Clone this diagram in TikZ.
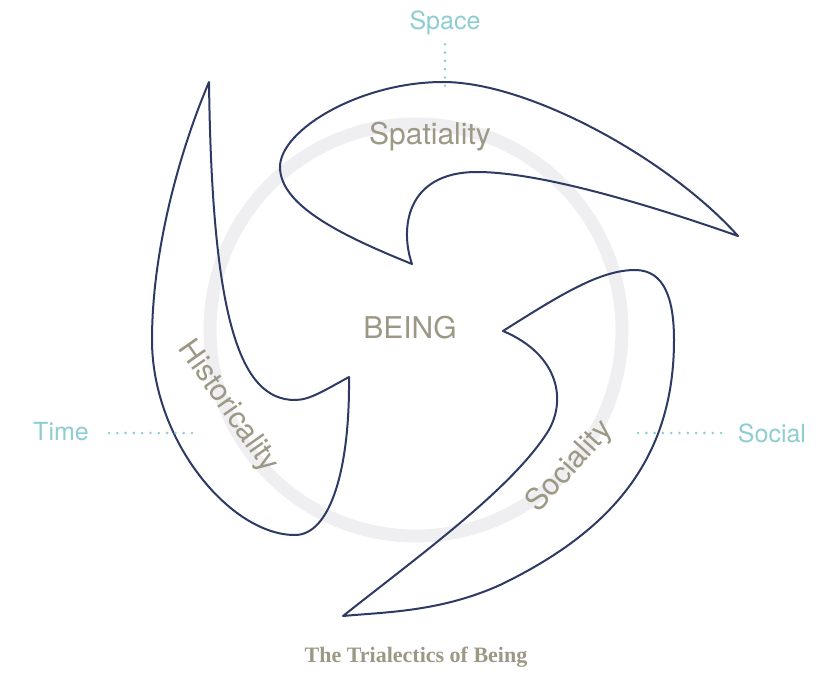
\documentclass[tikz,border=0pt]{standalone}
\usepackage{fontspec}
\setmainfont{TeX Gyre Heros}
\newfontfamily\capfont{Liberation Serif}
\usepackage{tikz}
\usetikzlibrary{positioning,calc}
\definecolor{hooknavy}{HTML}{2E3A64}
\definecolor{axisteal}{HTML}{8DCDD3}
\definecolor{facetgray}{HTML}{9C9885}
\definecolor{ringgray}{HTML}{EFEFF2}
\tikzset{
  hook/.style    ={draw=hooknavy, line width=2pt, line join=round},
  ring/.style    ={draw=ringgray, line width=13pt},
  axislbl/.style ={text=axisteal, inner sep=1pt, font=\fontsize{25}{28}\selectfont},
  facet/.style   ={text=facetgray, inner sep=1pt, font=\fontsize{30}{34}\selectfont},
  dotline/.style ={draw=axisteal, line width=2.9pt, line cap=round,
                   dash pattern=on 0pt off 8.3pt},
}
\begin{document}
\begin{tikzpicture}[x=1pt, y=-1pt]
\useasboundingbox (0,0) rectangle (824,674);
\draw[ring] (416,330) circle[radius=206pt];

% the three hooks
\draw[hook] (412,264) .. controls (340,235) and (280,205) .. (280,167)
  .. controls (280,130) and (360,82) .. (443,82)
  .. controls (530,82) and (670,160) .. (738,236)
  .. controls (650,205) and (540,172) .. (477,172)
  .. controls (405,172) and (400,230) .. cycle;
\draw[hook] (209,82) .. controls (180,150) and (152,250) .. (152,340)
  .. controls (152,440) and (230,535) .. (295,535)
  .. controls (330,535) and (350,470) .. (349,377)
  .. controls (325,390) and (310,400) .. (295,400)
  .. controls (240,400) and (212,320) .. cycle;
\draw[hook] (503,331) .. controls (560,295) and (600,270) .. (635,270)
  .. controls (665,270) and (674,300) .. (674,340)
  .. controls (674,460) and (610,532) .. (500,585)
  .. controls (440,612) and (385,612) .. (343,616)
  .. controls (420,555) and (510,490) .. (547,433)
  .. controls (567,402) and (560,355) .. cycle;

\node[facet] (being) at (410,328) {BEING};
\node[facet] (spat) at (430,137) {Spatiality};
\node[facet, rotate=-55] (hist) at (228,407) {Historicality};
\node[facet, rotate=48] (soc) at (570,467) {Sociality};

\node[axislbl] (space) at (445,23) {Space};
\node[axislbl] (time) at (61,432) {Time};
\node[axislbl] (social) at (772,433) {Social};
\coordinate (spacend) at (445,92);
\coordinate (timend) at (192,433);
\coordinate (socialend) at (638,433);
\draw[dotline] (space.south) ++(0,8) -- (spacend);
\draw[dotline] (timend) -- ++(-85,0);
\draw[dotline] (socialend) -- ++(85,0);

\node[text=facetgray, font=\capfont\bfseries\fontsize{22}{26}\selectfont] (caption)
  at (416,657) {The Trialectics of Being};
\end{tikzpicture}
\end{document}
